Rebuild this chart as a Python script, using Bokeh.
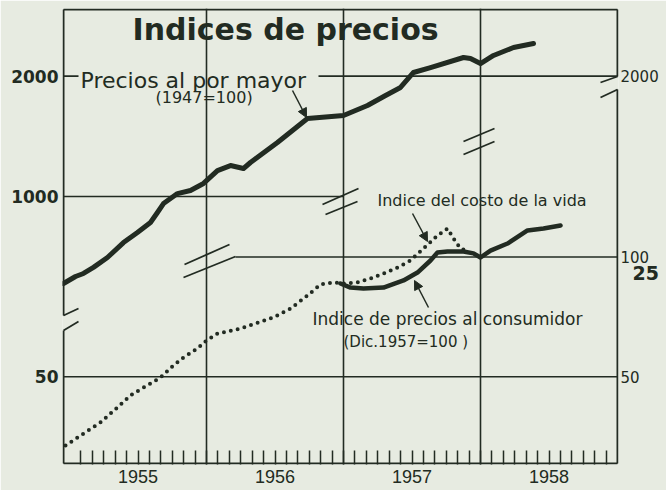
import math
from bokeh.plotting import figure
from bokeh.models import (Range1d, LogScale, LinearAxis, FixedTicker, Label,
                          Arrow, NormalHead)
from bokeh.embed import file_html
from bokeh.resources import INLINE

# ---------------- data ----------------
wholesale_dates = [1954.956, 1955.044, 1955.102, 1955.175, 1955.277, 1955.394,
                   1955.496, 1955.591, 1955.642, 1955.686, 1955.788, 1955.883,
                   1955.978, 1956.080, 1956.175, 1956.270, 1956.321, 1956.518,
                   1956.737, 1957.000, 1957.175, 1957.307, 1957.416, 1957.511,
                   1957.635, 1957.876, 1957.927, 1958.000, 1958.095, 1958.241,
                   1958.387]
wholesale_index = [606, 631, 642, 665, 704, 767, 813, 861, 912, 960, 1017, 1035,
                   1078, 1161, 1195, 1175, 1216, 1365, 1567, 1594, 1688, 1789,
                   1873, 2042, 2101, 2226, 2213, 2150, 2252, 2358, 2413]

living_dates = [1954.971, 1955.102, 1955.226, 1955.350, 1955.445, 1955.518,
                1955.591, 1955.664, 1955.759, 1955.832, 1955.934, 1956.000,
                1956.080, 1956.248, 1956.489, 1956.613, 1956.737, 1956.832,
                1956.927, 1957.000, 1957.102, 1957.197, 1957.292, 1957.394,
                1957.489, 1957.584, 1957.686, 1957.759, 1957.803, 1957.854,
                1957.905]
living_index = [33.6, 36.0, 38.4, 41.9, 44.9, 46.5, 48.1, 49.8, 53.4, 55.9, 58.9,
                61.7, 64.2, 66.1, 70.5, 74.2, 80.0, 85.3, 86.3, 85.8, 86.3, 88.3,
                90.9, 94.1, 98.0, 105.0, 113.2, 117.9, 111.3, 105.0, 103.8]

consumer_dates = [1956.978, 1957.051, 1957.146, 1957.292, 1957.438, 1957.540,
                  1957.635, 1957.686, 1957.759, 1957.876, 1957.949, 1958.000,
                  1958.073, 1958.197, 1958.343, 1958.460, 1958.584]
consumer_index = [85.8, 83.8, 83.3, 83.8, 87.3, 91.4, 98.0, 102.6, 103.2, 103.2,
                  102.1, 99.7, 103.8, 108.1, 116.6, 117.9, 120.0]

year_labels = ["1955", "1956", "1957", "1958"]
year_label_pos = [1955.5, 1956.5, 1957.5, 1958.5]
year_grid = [1956, 1957, 1958]
left_ticks_wholesale = [2000, 1000]
left_ticks_index = [50]
right_ticks_index = [100, 50]
right_ticks_wholesale = [2000]
edge_label = "25"            # fragment of a neighbouring scale, cut by the page edge

INK = "#222b22"
BG = "#e7ebe1"

# --------- reference-pixel helpers (for placement of decorations) ---------
def px_x(px):
    return 1956 + (px - 206) / 137.0

def px_w(py):      # wholesale log scale
    return 1000 * 10 ** ((196 - py) / 400.0)

def px_i(py):      # index log scale
    return 100 * 10 ** ((256.5 - py) / 398.0)

W, H = 666, 490
FL, FR, FT, FB = 62, 618, 8, 464       # frame edges in page pixels

x_rng = Range1d(px_x(FL), px_x(FR))
w_rng = Range1d(px_w(FB), px_w(FT))
i_rng = Range1d(px_i(FB), px_i(FT))

def i_to_w(v):
    f = math.log(v / i_rng.start) / math.log(i_rng.end / i_rng.start)
    return round(w_rng.start * (w_rng.end / w_rng.start) ** f, 3)

def w_to_i(v):
    f = math.log(v / w_rng.start) / math.log(w_rng.end / w_rng.start)
    return round(i_rng.start * (i_rng.end / i_rng.start) ** f, 3)

p = figure(width=W, height=H, x_range=x_rng, y_range=w_rng, y_axis_type="log",
           x_axis_location=None, y_axis_location=None,
           output_backend="svg", toolbar_location=None,
           min_border_left=FL, min_border_right=W - FR,
           min_border_top=FT, min_border_bottom=H - FB)
p.extra_y_ranges = {"idx": i_rng}
p.extra_y_scales = {"idx": LogScale()}
p.background_fill_color = BG
p.border_fill_color = BG
p.outline_line_color = None

p.ygrid.visible = False
p.xgrid.ticker = FixedTicker(ticks=year_grid)
p.xgrid.grid_line_color = INK
p.xgrid.grid_line_width = 1.6

# ---------------- axes ----------------
months = [1955 + k / 12 for k in range(1, 48)]
xax = LinearAxis(ticker=FixedTicker(ticks=year_label_pos, minor_ticks=months),
                 major_label_overrides={v: t for v, t in zip(year_label_pos, year_labels)},
                 axis_line_color=None, major_tick_line_color=None,
                 major_tick_in=0, major_tick_out=0,
                 minor_tick_in=14, minor_tick_out=0,
                 minor_tick_line_color=INK, minor_tick_line_width=1.5,
                 major_label_standoff=5,
                 major_label_text_font="Liberation Sans",
                 major_label_text_font_size="18px",
                 major_label_text_color=INK)
p.add_layout(xax, "below")

left_pos = left_ticks_wholesale + [i_to_w(v) for v in left_ticks_index]
left_txt = [str(v) for v in left_ticks_wholesale + left_ticks_index]
lax = LinearAxis(ticker=FixedTicker(ticks=left_pos),
                 major_label_overrides=dict(zip(left_pos, left_txt)),
                 axis_line_color=None, major_tick_line_color=None,
                 major_tick_in=0, major_tick_out=0,
                 major_label_standoff=4,
                 major_label_text_font="DejaVu Sans",
                 major_label_text_font_style="bold",
                 major_label_text_font_size="17px",
                 major_label_text_color=INK)
p.add_layout(lax, "left")

right_pos = right_ticks_index + [w_to_i(v) for v in right_ticks_wholesale]
right_txt = [str(v) for v in right_ticks_index + right_ticks_wholesale]
rax = LinearAxis(y_range_name="idx", ticker=FixedTicker(ticks=right_pos),
                 major_label_overrides=dict(zip(right_pos, right_txt)),
                 axis_line_color=None, major_tick_line_color=None,
                 major_tick_in=0, major_tick_out=0,
                 major_label_standoff=2,
                 major_label_text_font="DejaVu Sans",
                 major_label_text_font_size="15px",
                 major_label_text_color=INK)
p.add_layout(rax, "right")

edge_pos = round(px_i(273), 3)
eax = LinearAxis(y_range_name="idx", ticker=FixedTicker(ticks=[edge_pos]),
                 major_label_overrides={edge_pos: edge_label},
                 axis_line_color=None, major_tick_line_color=None,
                 major_tick_in=0, major_tick_out=0,
                 major_label_standoff=-29,
                 major_label_text_font="DejaVu Sans",
                 major_label_text_font_style="bold",
                 major_label_text_font_size="19px",
                 major_label_text_color=INK)
p.add_layout(eax, "right")

# ---------------- frame (with scale breaks) ----------------
frame_px = [((63, 9), (617, 9)), ((63, 463), (617, 463)),
            ((63, 9), (63, 315)), ((63, 330), (63, 463)),
            ((617, 9), (617, 76)), ((617, 89), (617, 463))]
p.segment([px_x(a[0]) for a, b in frame_px], [px_w(a[1]) for a, b in frame_px],
          [px_x(b[0]) for a, b in frame_px], [px_w(b[1]) for a, b in frame_px],
          line_color=INK, line_width=2)

breaks_px = [((63, 315), (78, 308)), ((63, 330), (78, 321)),
             ((184, 264), (229, 244)), ((183, 277), (235, 256)),
             ((322, 204), (358, 188)), ((325, 214), (357, 201)),
             ((463, 141), (494, 128)), ((463, 154), (494, 141)),
             ((600, 82), (617, 76)), ((600, 97), (617, 89))]
p.segment([px_x(a[0]) for a, b in breaks_px], [px_w(a[1]) for a, b in breaks_px],
          [px_x(b[0]) for a, b in breaks_px], [px_w(b[1]) for a, b in breaks_px],
          line_color=INK, line_width=1.8)

# ---------------- partial horizontal grid lines ----------------
xl, xr = px_x(63), px_x(617)
p.segment([xl, px_x(318), xl], [2000, 2000, 1000],
          [px_x(78), xr, 1957.0], [2000, 2000, 1000],
          line_color=INK, line_width=1.6)
p.segment([px_x(235), xl], [100, 50], [xr, xr], [100, 50],
          y_range_name="idx", line_color=INK, line_width=1.6)

# ---------------- series ----------------
p.line(wholesale_dates, wholesale_index, line_color=INK, line_width=5,
       line_join="round", line_cap="round")
p.line(living_dates, living_index, y_range_name="idx", line_color=INK,
       line_width=4, line_dash="0 7", line_cap="round")
p.line(consumer_dates, consumer_index, y_range_name="idx", line_color=INK,
       line_width=4.5, line_join="round", line_cap="round")

# ---------------- texts ----------------
def add_label(text, px, py, size, scale="w", style="normal"):
    y = px_w(py) if scale == "w" else px_i(py)
    kw = {} if scale == "w" else {"y_range_name": "idx"}
    p.add_layout(Label(x=px_x(px), y=y, text=text, text_font="DejaVu Sans",
                       text_font_size=size, text_color=INK, text_align="left",
                       text_baseline="middle", text_font_style=style, **kw))

add_label("Indices de precios", 132, 29, "30px", style="bold")
add_label("Precios al por mayor", 80, 80, "22px")
add_label("(1947=100)", 155, 97, "16px")
add_label("Indice del costo de la vida", 377, 200, "16px", scale="i")
add_label("Indice de precios al consumidor", 312, 318, "17px", scale="i")
add_label("(Dic.1957=100 )", 343, 341, "15px", scale="i")

# ---------------- arrows ----------------
arrows = [((292, 90), (306, 117), "w"), ((412, 213), (427, 241), "i"),
          ((428, 307), (414, 280), "i")]
for (x0, y0), (x1, y1), sc in arrows:
    f = px_w if sc == "w" else px_i
    kw = {} if sc == "w" else {"y_range_name": "idx"}
    p.add_layout(Arrow(x_start=px_x(x0), y_start=f(y0), x_end=px_x(x1), y_end=f(y1),
                       line_color=INK, line_width=1.5,
                       end=NormalHead(size=9, fill_color=INK, line_color=INK), **kw))

html = file_html(p, INLINE)
html = html.replace("<body>", '<body style="background:%s">' % BG, 1)
open("out.html", "w").write(html)
